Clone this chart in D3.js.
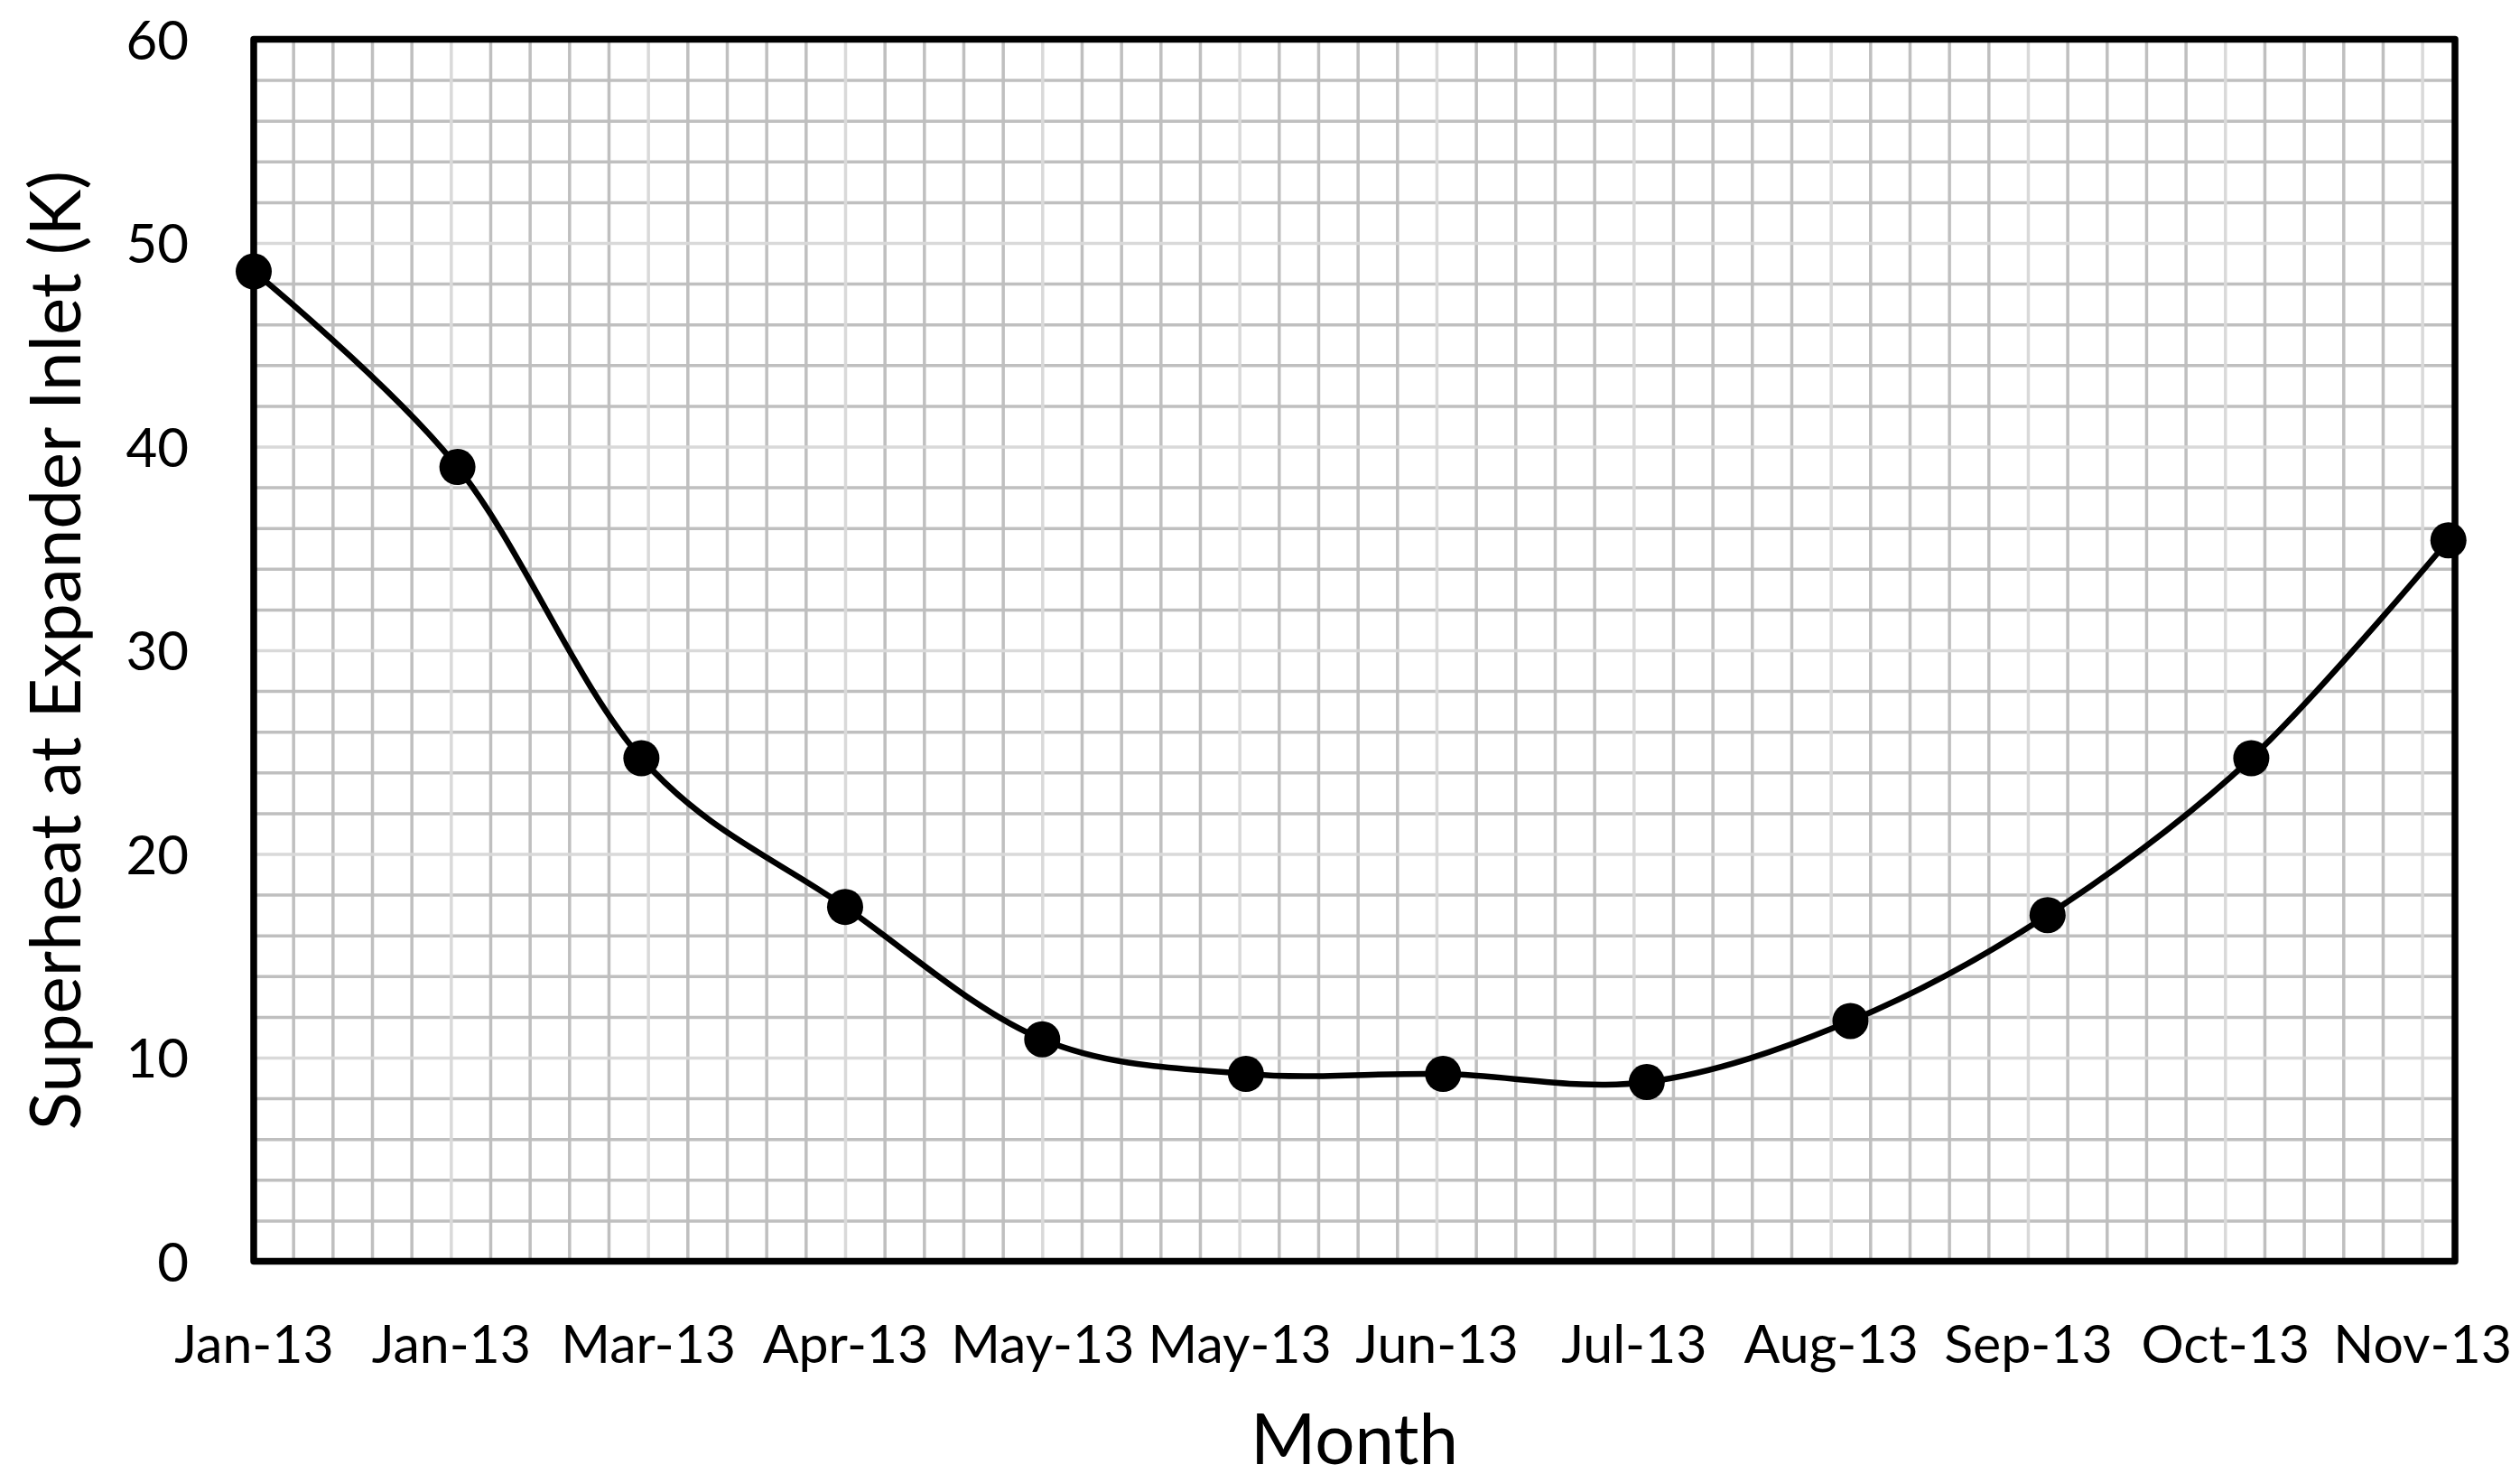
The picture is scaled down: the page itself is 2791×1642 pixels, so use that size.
<!DOCTYPE html>
<html>
<head>
<meta charset="utf-8">
<script src="https://cdn.jsdelivr.net/npm/d3@7"></script>
<style>
  html, body { margin: 0; padding: 0; background: #fff; }
  svg text { font-family: Lato, "Open Sans", sans-serif; fill: #000; }
</style>
</head>
<body>
<svg id="chart"></svg>
<script>
// Chart size is fixed to the reference picture.
const SVG_WIDTH = 2791;
const SVG_HEIGHT = 1642;

// Monthly readings (first day of each month, 2013).
const months = ["2013-01-01", "2013-02-01", "2013-03-01", "2013-04-01", "2013-05-01", "2013-06-01",
  "2013-07-01", "2013-08-01", "2013-09-01", "2013-10-01", "2013-11-01", "2013-12-01"];
const superheat = [48.6, 39.0, 24.7, 17.4, 10.9, 9.2, 9.2, 8.8, 11.8, 17.0, 24.7, 35.4];

// Date axis: major unit of 30 days starting Jan 1.
const tickDates = ["2013-01-01", "2013-01-31", "2013-03-02", "2013-04-01", "2013-05-01", "2013-05-31",
  "2013-06-30", "2013-07-30", "2013-08-29", "2013-09-28", "2013-10-28", "2013-11-27"];
const tickLabels = ["Jan-13", "Jan-13", "Mar-13", "Apr-13", "May-13", "May-13",
  "Jun-13", "Jul-13", "Aug-13", "Sep-13", "Oct-13", "Nov-13"];
const yTicks = [0, 10, 20, 30, 40, 50, 60];

const parseDay = d3.utcParse("%Y-%m-%d");
const xStart = parseDay("2013-01-01");
const xEnd = parseDay("2013-12-02");

const margin = {left: 281, right: 72, top: 43.5, bottom: 245.5};
const plotW = SVG_WIDTH - margin.left - margin.right;
const plotH = SVG_HEIGHT - margin.top - margin.bottom;

const svg = d3.select('#chart')
  .attr('width', SVG_WIDTH)
  .attr('height', SVG_HEIGHT)
  .attr('viewBox', `0 0 ${SVG_WIDTH} ${SVG_HEIGHT}`);

svg.append('rect')
  .attr('width', SVG_WIDTH)
  .attr('height', SVG_HEIGHT)
  .attr('fill', '#fff');

const x = d3.scaleUtc().domain([xStart, xEnd]).range([margin.left, margin.left + plotW]);
const y = d3.scaleLinear().domain([0, 60]).range([margin.top + plotH, margin.top]);

// Gridlines: minor every 6 days / 2 K, major every 30 days / 10 K.
const dayLines = d3.utcDay.range(d3.utcDay.offset(xStart, 1), xEnd, 1)
  .filter(d => d3.utcDay.count(xStart, d) % 6 === 0);
const minorX = dayLines.filter(d => d3.utcDay.count(xStart, d) % 30 !== 0);
const majorX = dayLines.filter(d => d3.utcDay.count(xStart, d) % 30 === 0);
const minorY = d3.range(2, 60, 2).filter(v => v % 10 !== 0);
const majorY = d3.range(10, 60, 10);

function gridLayer(axis, values, color, transform) {
  const g = svg.append('g')
    .attr('transform', transform)
    .call(axis.tickValues(values).tickFormat('').tickSizeOuter(0));
  g.select('.domain').remove();
  g.selectAll('.tick line').attr('stroke', color).attr('stroke-width', 3.5);
}

gridLayer(d3.axisLeft(y).tickSize(-plotW), minorY, '#bfbfbf', `translate(${margin.left},0)`);
gridLayer(d3.axisBottom(x).tickSize(-plotH), minorX, '#bfbfbf', `translate(0,${margin.top + plotH})`);
gridLayer(d3.axisLeft(y).tickSize(-plotW), majorY, '#d9d9d9', `translate(${margin.left},0)`);
gridLayer(d3.axisBottom(x).tickSize(-plotH), majorX, '#d9d9d9', `translate(0,${margin.top + plotH})`);

// Plot area border
svg.append('rect')
  .attr('x', x(xStart))
  .attr('y', y(60))
  .attr('width', x(xEnd) - x(xStart))
  .attr('height', y(0) - y(60))
  .attr('fill', 'none')
  .attr('stroke', '#000')
  .attr('stroke-width', 7.5)
  .attr('stroke-linejoin', 'round');

// Axis tick labels
const xAxis = svg.append('g')
  .attr('transform', `translate(0,${margin.top + plotH})`)
  .call(d3.axisBottom(x)
    .tickValues(tickDates.map(parseDay))
    .tickFormat((d, i) => tickLabels[i])
    .tickSize(0));
xAxis.select('.domain').remove();
xAxis.selectAll('text')
  .attr('y', 112)
  .attr('dy', null)
  .attr('font-size', 59)
  .attr('fill', '#000');

const yAxis = svg.append('g')
  .attr('transform', `translate(${margin.left},0)`)
  .call(d3.axisLeft(y).tickValues(yTicks).tickSize(0).tickPadding(72));
yAxis.select('.domain').remove();
yAxis.selectAll('text')
  .attr('dy', '0.36em')
  .attr('font-size', 60)
  .attr('fill', '#000');

// Series
const points = months.map((m, i) => ({date: parseDay(m), value: superheat[i]}));

const line = d3.line()
  .x(d => x(d.date))
  .y(d => y(d.value))
  .curve(d3.curveCatmullRom.alpha(0));

svg.append('path')
  .datum(points)
  .attr('d', line)
  .attr('fill', 'none')
  .attr('stroke', '#000')
  .attr('stroke-width', 6.5)
  .attr('stroke-linejoin', 'round');

svg.append('g')
  .selectAll('circle')
  .data(points)
  .join('circle')
  .attr('cx', d => x(d.date))
  .attr('cy', d => y(d.value))
  .attr('r', 20)
  .attr('fill', '#000');

// Axis titles
svg.append('text')
  .attr('x', margin.left + plotW / 2)
  .attr('y', 1621)
  .attr('text-anchor', 'middle')
  .attr('font-size', 78)
  .text('Month');

svg.append('text')
  .attr('transform', `translate(89,${margin.top + plotH / 2}) rotate(-90)`)
  .attr('text-anchor', 'middle')
  .attr('font-size', 78)
  .text('Superheat at Expander Inlet (K)');
</script>
</body>
</html>
